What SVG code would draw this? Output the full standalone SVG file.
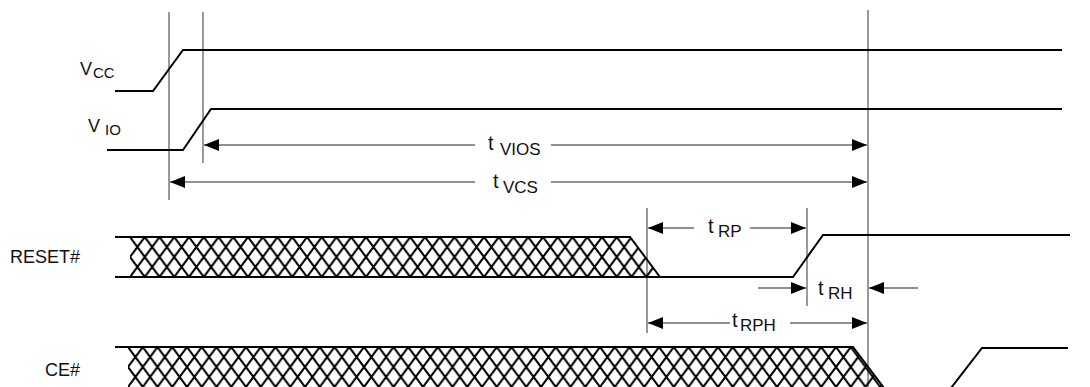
<svg xmlns="http://www.w3.org/2000/svg" width="1090" height="387" viewBox="0 0 1090 387">
<style>
.sig{fill:none;stroke:#000;stroke-width:2;stroke-linejoin:miter}
.vl{fill:none;stroke:#555;stroke-width:1.2}
.ar{fill:none;stroke:#222;stroke-width:1.2}
.lbl{font-family:"Liberation Sans",Arial,sans-serif;font-size:18px;fill:#111}
.t{font-family:"Liberation Sans",Arial,sans-serif;font-size:20px;fill:#111}
.s{font-size:17px}
.s15{font-size:15px}
.hl{fill:none;stroke:#000;stroke-width:2}
</style>
<defs>
<marker id="ah" markerUnits="userSpaceOnUse" markerWidth="15" markerHeight="12" refX="15" refY="6" orient="auto">
<path d="M0,0 L15,6 L0,12 z" fill="#000"/>
</marker>
<pattern id="hatchR" patternUnits="userSpaceOnUse" x="130" y="237" width="14.75" height="40">
<path class="hl" d="M-36.875,-10 L7.375,50 M-22.125,-10 L22.125,50 M-7.375,-10 L36.875,50 M7.375,-10 L51.625,50 M-36.875,50 L7.375,-10 M-22.125,50 L22.125,-10 M-7.375,50 L36.875,-10 M7.375,50 L51.625,-10"/>
</pattern>
<pattern id="hatchC" patternUnits="userSpaceOnUse" x="128" y="347" width="14.75" height="40">
<path class="hl" d="M-36.875,-10 L7.375,50 M-22.125,-10 L22.125,50 M-7.375,-10 L36.875,50 M7.375,-10 L51.625,50 M-36.875,50 L7.375,-10 M-22.125,50 L22.125,-10 M-7.375,50 L36.875,-10 M7.375,50 L51.625,-10"/>
</pattern>
</defs>
<rect width="1090" height="387" fill="#fff"/>

<g id="gridlines">
<line class="vl" x1="169" y1="12" x2="169" y2="200"/>
<line class="vl" x1="203" y1="12" x2="203" y2="163"/>
<line class="vl" x1="868" y1="10" x2="868" y2="387"/>
<line class="vl" x1="647" y1="208" x2="647" y2="333"/>
<line class="vl" x1="807" y1="208" x2="807" y2="306"/>
</g>

<g id="vcc">
<polyline class="sig" points="115,91 153,91 183,50 1062,50"/>
<text class="lbl" x="80" y="75">V<tspan class="s15" x="93" y="78">CC</tspan></text>
</g>

<g id="vio">
<polyline class="sig" points="107,150 183,150 211,109 1062,109"/>
<text class="lbl" x="88" y="132">V<tspan class="s15" x="105" y="135">IO</tspan></text>
</g>

<g id="reset">
<polygon points="130,237 630,237 660,277 130,277" fill="url(#hatchR)"/>
<polyline class="sig" points="115,237 630,237 660,277"/>
<polyline class="sig" points="115,277 793,277 823,235 1070,235"/>
<text class="lbl" x="10" y="263">RESET#</text>
</g>

<g id="ce">
<polygon points="128,347 853,347 883,387 128,387" fill="url(#hatchC)"/>
<polyline class="sig" points="115,347 853,347 884,388"/>
<polyline class="sig" points="951,388 982,348 1068,348"/>
<text class="lbl" x="45" y="376">CE#</text>
</g>

<g id="connectors">
<line class="ar" x1="475" y1="145" x2="204" y2="145" marker-end="url(#ah)"/>
<line class="ar" x1="551" y1="145" x2="867" y2="145" marker-end="url(#ah)"/>
<line class="ar" x1="475" y1="182" x2="170" y2="182" marker-end="url(#ah)"/>
<line class="ar" x1="551" y1="182" x2="867" y2="182" marker-end="url(#ah)"/>
<line class="ar" x1="694" y1="228" x2="648" y2="228" marker-end="url(#ah)"/>
<line class="ar" x1="750" y1="228" x2="806" y2="228" marker-end="url(#ah)"/>
<line class="ar" x1="758" y1="288" x2="806" y2="288" marker-end="url(#ah)"/>
<line class="ar" x1="918" y1="288" x2="869" y2="288" marker-end="url(#ah)"/>
<line class="ar" x1="730" y1="323" x2="648" y2="323" marker-end="url(#ah)"/>
<line class="ar" x1="790" y1="323" x2="867" y2="323" marker-end="url(#ah)"/>
</g>

<g id="labels">
<text class="t" x="488" y="150">t<tspan class="s" x="500" y="155">VIOS</tspan></text>
<text class="t" x="493" y="188">t<tspan class="s" x="503" y="193">VCS</tspan></text>
<text class="t" x="708" y="233">t<tspan class="s" x="718" y="237">RP</tspan></text>
<text class="t" x="818" y="295">t<tspan class="s" x="828" y="299">RH</tspan></text>
<text class="t" x="732" y="327">t<tspan class="s" x="740" y="331">RPH</tspan></text>
</g>
</svg>
